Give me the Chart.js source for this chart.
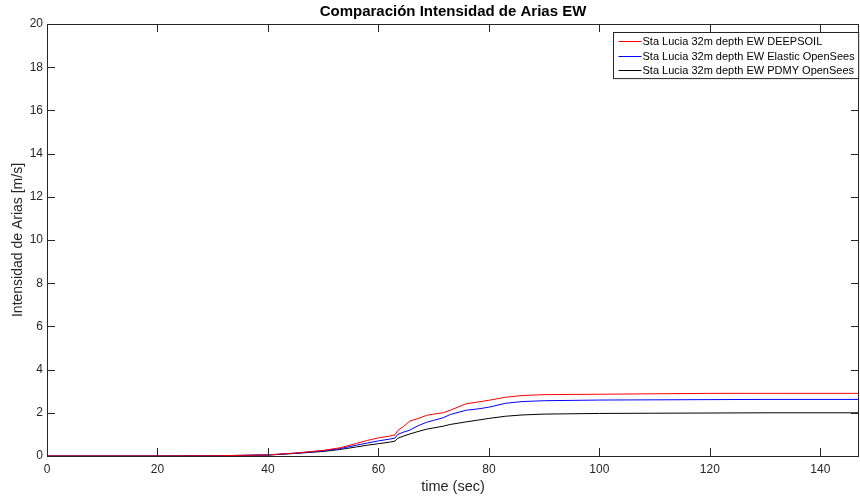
<!DOCTYPE html>
<html>
<head>
<meta charset="utf-8">
<script src="https://cdn.jsdelivr.net/npm/chart.js@4.4.1/dist/chart.umd.min.js"></script>
<style>
  html, body { margin: 0; padding: 0; background: #fff; }
  #wrap { width: 860px; height: 502px; }
</style>
</head>
<body>
<div id="wrap"><canvas id="c" width="860" height="502"></canvas></div>
<script>
// time axis (sec), shared by all three records
const time = [0, 20, 30, 40, 45, 50, 53, 56, 58, 60, 62, 63, 63.5, 64.5, 65.7, 67, 68.7, 70, 71.7, 73,
  75.9, 78, 80, 83, 86, 90, 100, 110, 120, 130, 147];

// Arias intensity [m/s]
const deepsoil = [0, 0, 0.01, 0.05, 0.14, 0.26, 0.38, 0.58, 0.72, 0.84, 0.92, 0.98, 1.18, 1.36, 1.62, 1.72,
  1.88, 1.94, 2.0, 2.12, 2.42, 2.5, 2.58, 2.72, 2.8, 2.84, 2.86, 2.88, 2.9, 2.9, 2.9];
const elasticOS = [0, 0, 0.01, 0.05, 0.13, 0.24, 0.34, 0.5, 0.6, 0.7, 0.78, 0.83, 1.0, 1.1, 1.2, 1.38,
  1.56, 1.65, 1.77, 1.92, 2.12, 2.18, 2.26, 2.44, 2.52, 2.56, 2.59, 2.6, 2.61, 2.62, 2.62];
const pdmyOS = [0, 0, 0.01, 0.04, 0.12, 0.21, 0.3, 0.42, 0.5, 0.57, 0.64, 0.69, 0.82, 0.92, 1.02, 1.12,
  1.24, 1.3, 1.38, 1.46, 1.58, 1.66, 1.74, 1.84, 1.9, 1.94, 1.97, 1.98, 1.99, 2.0, 2.0];

const seriesNames = [
  'Sta Lucia 32m depth EW DEEPSOIL',
  'Sta Lucia 32m depth EW Elastic OpenSees',
  'Sta Lucia 32m depth EW PDMY OpenSees'
];
const seriesColors = ['#ff0000', '#0000ff', '#000000'];

const FONT = "'Liberation Sans', Arial, Helvetica, sans-serif";
const AXIS = '#262626';

function pts(vals) {
  return time.map((t, i) => ({ x: t, y: vals[i] }));
}

// box around the axes with inward ticks on all four sides
const boxAxes = {
  id: 'boxAxes',
  afterDatasetsDraw(chart) {
    const { ctx, chartArea: a, scales } = chart;
    const len = 8;
    ctx.save();
    ctx.strokeStyle = AXIS;
    ctx.lineWidth = 1;
    ctx.beginPath();
    ctx.rect(Math.round(a.left) + 0.5, Math.round(a.top) + 0.5,
      Math.round(a.right - a.left) - 1, Math.round(a.bottom - a.top));
    scales.x.ticks.forEach(t => {
      const px = Math.round(scales.x.getPixelForValue(t.value)) + 0.5;
      ctx.moveTo(px, a.bottom); ctx.lineTo(px, a.bottom - len);
      ctx.moveTo(px, a.top); ctx.lineTo(px, a.top + len);
    });
    scales.y.ticks.forEach(t => {
      const py = Math.round(scales.y.getPixelForValue(t.value)) + 0.5;
      ctx.moveTo(a.left, py); ctx.lineTo(a.left + len, py);
      ctx.moveTo(a.right, py); ctx.lineTo(a.right - len, py);
    });
    ctx.stroke();
    ctx.restore();
  }
};

// boxed legend in the upper right corner
const boxLegend = {
  id: 'boxLegend',
  afterDraw(chart) {
    const { ctx, chartArea: a } = chart;
    const sets = chart.data.datasets;
    ctx.save();
    ctx.font = '11px ' + FONT;
    const textW = Math.max(...sets.map(d => ctx.measureText(d.label).width));
    const rowH = 14.7, lineW = 23, gap = 1, padX = 5;
    const w = padX + lineW + gap + textW + 4;
    const h = rowH * sets.length + 2;
    const x0 = Math.round(a.right - 1 - w) + 0.5;
    const y0 = Math.round(a.top + 8) + 0.5;
    ctx.fillStyle = '#fff';
    ctx.fillRect(x0, y0, w, h);
    ctx.strokeStyle = '#262626';
    ctx.lineWidth = 1;
    ctx.strokeRect(x0, y0, w, h);
    ctx.textBaseline = 'middle';
    sets.forEach((d, i) => {
      const cy = Math.round(y0 + 1 + rowH * (i + 0.5)) + 0.5;
      ctx.strokeStyle = seriesColors[i];
      ctx.lineWidth = 1;
      ctx.beginPath();
      ctx.moveTo(x0 + padX, cy);
      ctx.lineTo(x0 + padX + lineW, cy);
      ctx.stroke();
      ctx.fillStyle = '#000';
      ctx.fillText(d.label, x0 + padX + lineW + gap, cy);
    });
    ctx.restore();
  }
};

new Chart(document.getElementById('c'), {
  type: 'line',
  data: {
    datasets: [
      { label: seriesNames[0], data: pts(deepsoil), borderColor: seriesColors[0] },
      { label: seriesNames[1], data: pts(elasticOS), borderColor: seriesColors[1] },
      { label: seriesNames[2], data: pts(pdmyOS), borderColor: seriesColors[2] }
    ]
  },
  options: {
    responsive: false,
    animation: false,
    layout: { padding: { top: 0, right: 1, left: 0, bottom: 0 } },
    elements: {
      point: { radius: 0 },
      line: { borderWidth: 1, tension: 0 }
    },
    scales: {
      x: {
        type: 'linear',
        min: 0,
        max: 147,
        grid: { display: false, drawTicks: false },
        border: { display: false },
        ticks: { stepSize: 20, includeBounds: false, padding: 6, color: AXIS, font: { family: FONT, size: 12 }, maxRotation: 0 },
        title: { display: true, text: 'time (sec)', color: AXIS, font: { family: FONT, size: 14.5 }, padding: { top: 0, bottom: 6 } },
        afterFit(s) { s.height = 46; }
      },
      y: {
        min: 0,
        max: 20,
        grid: { display: false, drawTicks: false },
        border: { display: false },
        ticks: { stepSize: 2, padding: 4, color: AXIS, font: { family: FONT, size: 12 } },
        title: { display: true, text: 'Intensidad de Arias [m/s]', color: AXIS, font: { family: FONT, size: 14 }, padding: { top: 10, bottom: 0 } },
        afterFit(s) { s.width = 47; }
      }
    },
    plugins: {
      legend: { display: false },
      tooltip: { enabled: false },
      title: {
        display: true,
        fullSize: false,
        text: 'Comparación Intensidad de Arias EW',
        color: '#000',
        font: { family: FONT, size: 15, weight: 'bold' },
        padding: { top: 3, bottom: 3 }
      }
    }
  },
  plugins: [boxAxes, boxLegend]
});
</script>
</body>
</html>
